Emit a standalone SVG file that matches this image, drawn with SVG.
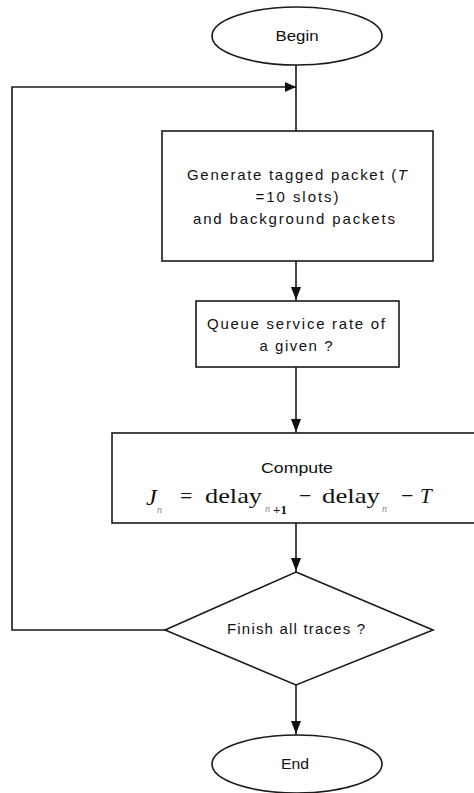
<svg xmlns="http://www.w3.org/2000/svg" width="474" height="793" viewBox="0 0 474 793">
  <defs>
    <style>
      .shape { fill: #fff; stroke: #1a1a1a; stroke-width: 1.6; }
      .wire { fill: none; stroke: #1a1a1a; stroke-width: 1.6; }
      .head { fill: #111; stroke: none; }
      .lbl { font-family: "Liberation Sans", Arial, sans-serif; font-size: 15px; fill: #111; text-anchor: middle; dominant-baseline: central; }
      .math { font-family: "Liberation Serif", "Times New Roman", serif; fill: #111; }
      .sub { font-family: "Liberation Serif", "Times New Roman", serif; font-style: italic; font-size: 10px; fill: #888; }
    </style>
  </defs>
  <rect width="474" height="793" fill="#fff"/>

  <!-- connectors -->
  <g id="connectors">
    <line class="wire" x1="296" y1="65" x2="296" y2="131"/>
    <polyline class="wire" points="165,630 12,630 12,87 296,87"/>
    <polygon class="head" points="296,87 285,82 285,92"/>
    <line class="wire" x1="296" y1="261" x2="296" y2="301"/>
    <polygon class="head" points="296,300 291,287 301,287"/>
    <line class="wire" x1="296" y1="367" x2="296" y2="433"/>
    <polygon class="head" points="296,432 291,419 301,419"/>
    <line class="wire" x1="296" y1="523" x2="296" y2="572"/>
    <polygon class="head" points="296,571 291,558 301,558"/>
    <line class="wire" x1="296" y1="685" x2="296" y2="735"/>
    <polygon class="head" points="296,734 291,721 301,721"/>
  </g>

  <!-- start terminal -->
  <g id="begin">
    <ellipse class="shape" cx="297" cy="36" rx="85" ry="29"/>
    <text class="lbl" x="297" y="35" textLength="43" lengthAdjust="spacingAndGlyphs">Begin</text>
  </g>

  <!-- packet generation -->
  <g id="generate">
    <rect class="shape" x="162" y="131" width="271" height="130"/>
    <text class="lbl" x="297" y="174" textLength="220" lengthAdjust="spacing">Generate tagged packet (<tspan font-style="italic">T</tspan></text>
    <text class="lbl" x="297" y="196" textLength="83" lengthAdjust="spacing">=10 slots)</text>
    <text class="lbl" x="294" y="218" textLength="202" lengthAdjust="spacing">and background packets</text>
  </g>

  <!-- service rate -->
  <g id="queue">
    <rect class="shape" x="196" y="301" width="203" height="66"/>
    <text class="lbl" x="296" y="323" textLength="178" lengthAdjust="spacing">Queue service rate of</text>
    <text class="lbl" x="296" y="345" textLength="73" lengthAdjust="spacing">a given ?</text>
  </g>

  <!-- jitter computation -->
  <g id="compute">
    <rect class="shape" x="112" y="433" width="370" height="90"/>
    <text class="lbl" x="297" y="467" textLength="72" lengthAdjust="spacingAndGlyphs">Compute</text>
    <text class="math" x="146" y="505" font-size="24" font-style="italic">J</text>
    <text class="sub" x="157" y="513">n</text>
    <text class="math" x="180" y="503" font-size="22">=</text>
    <text class="math" x="205" y="503" font-size="21" textLength="57" lengthAdjust="spacingAndGlyphs">delay</text>
    <text class="sub" x="265" y="512">n</text>
    <text class="math" x="273" y="514" font-size="13" font-weight="bold">+1</text>
    <text class="math" x="299" y="503" font-size="22">−</text>
    <text class="math" x="322" y="503" font-size="21" textLength="58" lengthAdjust="spacingAndGlyphs">delay</text>
    <text class="sub" x="382" y="512">n</text>
    <text class="math" x="401" y="503" font-size="22">−</text>
    <text class="math" x="420" y="503" font-size="21" font-style="italic">T</text>
  </g>

  <!-- loop decision -->
  <g id="finish">
    <polygon class="shape" points="296,572 433,630 296,685 165,630"/>
    <text class="lbl" x="296" y="628" textLength="138" lengthAdjust="spacing">Finish all traces ?</text>
  </g>

  <!-- end terminal -->
  <g id="end">
    <ellipse class="shape" cx="297" cy="764" rx="85" ry="29"/>
    <text class="lbl" x="295" y="763" textLength="28" lengthAdjust="spacingAndGlyphs">End</text>
  </g>
</svg>
